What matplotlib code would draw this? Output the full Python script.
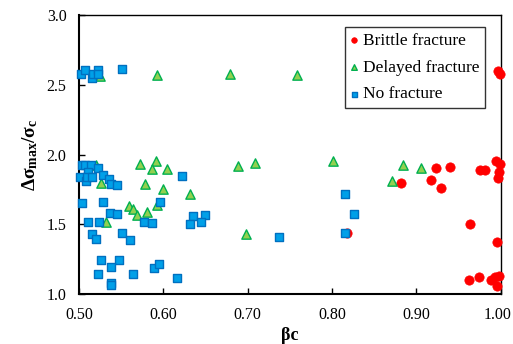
import matplotlib
matplotlib.use("Agg")
import matplotlib.pyplot as plt
import matplotlib.transforms as mtransforms

plt.rcParams['font.family'] = ['Liberation Serif', 'DejaVu Serif']
plt.rcParams['mathtext.fontset'] = 'custom'
plt.rcParams['mathtext.rm'] = 'Liberation Serif'
plt.rcParams['mathtext.it'] = 'Liberation Serif:italic'
plt.rcParams['mathtext.bf'] = 'Liberation Serif:bold'

# Brittle fracture
brittle_x = [0.882, 0.923, 0.940, 0.917, 0.929, 0.975, 0.981, 0.994, 0.9995, 0.998, 0.997,
             0.964, 0.996, 0.963, 0.974, 0.988, 0.993, 0.998, 0.996, 0.818, 0.997, 0.999]
brittle_y = [1.80, 1.908, 1.915, 1.82, 1.76, 1.892, 1.892, 1.958, 1.935, 1.88, 1.837,
             1.50, 1.375, 1.103, 1.12, 1.103, 1.12, 1.131, 1.06, 1.442, 2.60, 2.58]

# Delayed fracture
delayed_x = [0.593, 0.679, 0.759, 0.525, 0.520, 0.572, 0.591, 0.587, 0.604, 0.526, 0.578,
             0.600, 0.632, 0.559, 0.564, 0.569, 0.581, 0.593, 0.532, 0.689, 0.709, 0.698,
             0.801, 0.884, 0.905, 0.871]
delayed_y = [2.575, 2.58, 2.571, 2.565, 1.93, 1.935, 1.958, 1.897, 1.90, 1.796, 1.793,
             1.755, 1.717, 1.631, 1.614, 1.567, 1.59, 1.641, 1.515, 1.922, 1.944, 1.428,
             1.958, 1.93, 1.904, 1.813]

# No fracture
nofrac_x = [0.502, 0.507, 0.515, 0.517, 0.523, 0.523, 0.551,
            0.504, 0.507, 0.514, 0.522, 0.511, 0.501, 0.508, 0.510, 0.516, 0.529, 0.536,
            0.538, 0.545, 0.622, 0.504, 0.528, 0.537, 0.545, 0.511, 0.524, 0.516, 0.520,
            0.551, 0.561, 0.577, 0.587, 0.596, 0.526, 0.548, 0.538, 0.523, 0.564, 0.589,
            0.595, 0.538, 0.538, 0.616, 0.635, 0.649, 0.645, 0.632, 0.737, 0.815, 0.815,
            0.826]
nofrac_y = [2.58, 2.609, 2.552, 2.58, 2.609, 2.58, 2.616,
            1.925, 1.925, 1.925, 1.908, 1.88, 1.843, 1.815, 1.843, 1.84, 1.856, 1.827,
            1.793, 1.784, 1.849, 1.653, 1.664, 1.583, 1.574, 1.519, 1.519, 1.43, 1.399,
            1.438, 1.385, 1.519, 1.507, 1.66, 1.248, 1.244, 1.196, 1.141, 1.141, 1.191,
            1.217, 1.081, 1.065, 1.115, 1.562, 1.571, 1.519, 1.50, 1.409, 1.72, 1.442,
            1.576]

xticks = [0.50, 0.60, 0.70, 0.80, 0.90, 1.00]
yticks = [1.0, 1.5, 2.0, 2.5, 3.0]

fig = plt.figure(figsize=(5.13, 3.44), dpi=100)
ax = fig.add_axes([0.154, 0.145, 0.822, 0.810])

ax.scatter(brittle_x, brittle_y, s=45, marker='o', facecolor='#FF0000',
           edgecolor='#FF0000', linewidth=0.5, label='Brittle fracture', zorder=3, clip_on=False)
ax.scatter(delayed_x, delayed_y, s=45, marker='^', facecolor='#92D050',
           edgecolor='#00B050', linewidth=1.0, label='Delayed fracture', zorder=3, clip_on=False)
ax.scatter(nofrac_x, nofrac_y, s=36, marker='s', facecolor='#00A0E8',
           edgecolor='#0070C0', linewidth=1.0, label='No fracture', zorder=4, clip_on=False)

ax.set_xlim(0.50, 1.00)
ax.set_ylim(1.0, 3.0)
ax.set_xticks(xticks)
ax.set_xticklabels([f"{v:.2f}" for v in xticks])
ax.set_yticks(yticks)
ax.set_yticklabels([f"{v:.1f}" for v in yticks])
ax.tick_params(direction='in', length=4, width=1, labelsize=11.5, top=False, right=False, pad=9)

last = ax.get_xticklabels()[-1]
last.set_transform(last.get_transform() +
                   mtransforms.ScaledTranslation(-0.035, 0, fig.dpi_scale_trans))

for side in ['left', 'bottom']:
    ax.spines[side].set_linewidth(1.5)
for side in ['top', 'right']:
    ax.spines[side].set_linewidth(1.0)

ax.set_xlabel('βc', fontsize=13, fontweight='bold', labelpad=3)
ax.set_ylabel(r'$\mathbf{\Delta\sigma_{max}/\sigma_c}$', fontsize=14, labelpad=5)

leg = ax.legend(loc='upper right', bbox_to_anchor=(0.963, 0.959), borderaxespad=0,
                fontsize=12.5, frameon=True, fancybox=False, edgecolor='black',
                markerscale=0.6, handletextpad=0.3, handlelength=0.4, borderpad=0.32,
                labelspacing=0.62)
leg.get_frame().set_linewidth(1.0)

fig.savefig('out.png', dpi=100)
